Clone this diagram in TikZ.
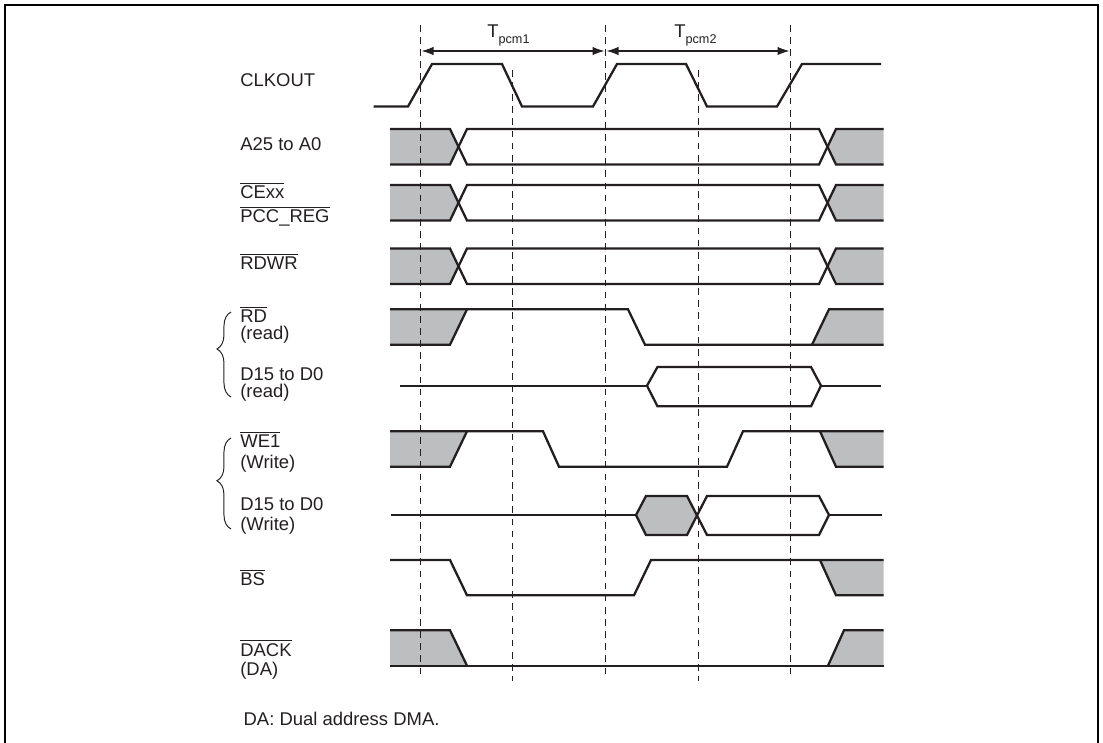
\documentclass[tikz,border=0pt]{standalone}
\usepackage{fontspec}
\setmainfont{Liberation Sans}
\usetikzlibrary{arrows.meta,decorations.pathreplacing}
\definecolor{unknownfill}{HTML}{BCBEC0}
\definecolor{inkblack}{HTML}{231F20}
\newcommand{\ovl}[1]{$\overline{\mbox{#1}}$}
\newcommand{\tsub}[2]{#1\raisebox{-3.4pt}{\fontsize{7.2}{8}\selectfont #2}}

\begin{document}
\begin{tikzpicture}[x=0.02cm,y=-0.02cm,
  signal/.style={draw=inkblack, line width=1.3pt, line join=miter},
  unknown/.style={fill=unknownfill, draw=none},
  thin signal/.style={draw=inkblack, line width=1.2pt},
  guide/.style={draw=inkblack, line width=0.8pt, dash pattern=on 3.8pt off 3.1pt},
  span/.style={{Latex[length=6.8pt,width=4.8pt]}-{Latex[length=6.8pt,width=4.8pt]}, draw=inkblack, line width=0.6pt, shorten <=0.6pt, shorten >=0.6pt},
  label/.style={anchor=base west, align=left, inner sep=0pt, text=inkblack, font=\fontsize{10.5}{9.8}\selectfont},
  bracket/.style={draw=inkblack, line width=0.55pt, decorate}
]
\useasboundingbox (0,0) rectangle (1103,743);

% frame
\draw[line width=1.15pt, draw=black] (5,743) -- (5,5) -- (1098,5) -- (1098,743);

% --------- GRAY AREAS ----------
\foreach \t/\b in {129/164.5, 185/220.5, 248.5/284} {
  \fill[unknown] (390,\t) -- (450,\t) -- (459,{(\t+\b)/2}) -- (450,\b) -- (390,\b) -- cycle;
  \fill[unknown] (883.5,\t) -- (836,\t) -- (827.5,{(\t+\b)/2}) -- (836,\b) -- (883.5,\b) -- cycle;
}
\fill[unknown] (390,309.3) -- (467,309.3) -- (450,344.7) -- (390,344.7) -- cycle;
\fill[unknown] (883.5,309.3) -- (829,309.3) -- (812,344.7) -- (883.5,344.7) -- cycle;
\fill[unknown] (390,431.3) -- (467,431.3) -- (450,466.7) -- (390,466.7) -- cycle;
\fill[unknown] (883.5,431.3) -- (820,431.3) -- (836,466.7) -- (883.5,466.7) -- cycle;
\fill[unknown] (636,515) -- (646,496) -- (687,496) -- (696.5,515) -- (687,535) -- (646,535) -- cycle;
\fill[unknown] (883.5,560) -- (820,560) -- (836,595.3) -- (883.5,595.3) -- cycle;
\fill[unknown] (390,630.3) -- (450,630.3) -- (467,665.7) -- (390,665.7) -- cycle;
\fill[unknown] (883.5,630.3) -- (844,630.3) -- (828,665.7) -- (883.5,665.7) -- cycle;

% --------- WAVEFORMS ----------
% clock
\draw[signal] (373.5,106.5) -- (408,106.5) -- (432,64) -- (502,64) -- (522,106.5) -- (593,106.5) -- (617,64) -- (686,64) -- (707,106.5) -- (777,106.5) -- (802,64) -- (881,64);

% address style buses
\foreach \t/\b in {129/164.5, 185/220.5, 248.5/284} {
  \draw[signal] (390,\t) -- (450,\t) -- (467,\b) -- (819,\b) -- (836,\t) -- (883.5,\t);
  \draw[signal] (390,\b) -- (450,\b) -- (467,\t) -- (819,\t) -- (836,\b) -- (883.5,\b);
}

% read
\draw[signal] (390,309.3) -- (628,309.3) -- (645,344.7) -- (883.5,344.7);
\draw[signal] (390,344.7) -- (450,344.7) -- (467,309.3);
\draw[signal] (812,344.7) -- (829,309.3) -- (883.5,309.3);
\draw[thin signal] (400,385.7) -- (647,385.7);
\draw[signal] (657.5,367) -- (647,385.7) -- (657.5,406.3) -- (811,406.3) -- (821,385.7) -- (811,367) -- cycle;
\draw[thin signal] (821,385.7) -- (881,385.7);

% write
\draw[signal] (390,431.3) -- (543,431.3) -- (559,466.7) -- (727,466.7) -- (743,431.3) -- (883.5,431.3);
\draw[signal] (390,466.7) -- (450,466.7) -- (467,431.3);
\draw[signal] (820,431.3) -- (836,466.7) -- (883.5,466.7);
\draw[thin signal] (391,515) -- (636,515);
\draw[signal] (636,515) -- (646,496) -- (687,496) -- (707,535) -- (819,535) -- (829,515) -- (819,496) -- (707,496) -- (687,535) -- (646,535) -- cycle;
\draw[thin signal] (829,515) -- (882,515);

% bus state
\draw[signal] (390,560) -- (450,560) -- (467,595.3) -- (634,595.3) -- (651,560) -- (883.5,560);
\draw[signal] (820,560) -- (836,595.3) -- (883.5,595.3);

% dack
\draw[signal] (390,630.3) -- (450,630.3) -- (467,665.7);
\draw[signal] (390,665.7) -- (883.5,665.7);
\draw[signal] (828,665.7) -- (844,630.3) -- (883.5,630.3);

% --------- CYCLE GUIDES ----------
\foreach \x in {420.5,605.5,790.5} \draw[guide] (\x,25) -- (\x,678);
\foreach \x in {512.5,698.5} \draw[guide] (\x,70) -- (\x,681);

\coordinate (c1) at (420.5,51);
\coordinate (c2) at (605.5,51);
\coordinate (c3) at (790.5,51);
\draw[span] (c1) -- (c2);
\draw[span] (c2) -- (c3);
\node[label] (tpcm1) at (487,38) {\tsub{T}{pcm1}};
\node[label] (tpcm2) at (674,38) {\tsub{T}{pcm2}};

% --------- LABELS ----------
\node[label] (clkout) at (240,87) {CLKOUT};
\node[label] (addr) at (240,151) {A25 to A0};
\node[label] (ce) at (240,222.7) {\ovl{CExx}\\[3.8pt]\ovl{PCC\_REG}};
\node[label] (rdwr) at (240,270) {\ovl{RDWR}};
\node[label] (rd) at (240,340) {\ovl{RD}\\(read)};
\node[label] (dread) at (240,397.3) {D15 to D0\\(read)};
\node[label] (we) at (240,468.3) {\ovl{WE1}\\[1.9pt](Write)};
\node[label] (dwrite) at (240,530.7) {D15 to D0\\[1.9pt](Write)};
\node[label] (bs) at (240,585.7) {\ovl{BS}};
\node[label] (dack) at (240,675) {\ovl{DACK}\\[1pt](DA)};
\node[label] (note) at (243.3,725) {DA: Dual address DMA.};

% braces
\coordinate (rbot) at (231,397);
\coordinate (rtop) at (231,312);
\coordinate (wbot) at (231,529);
\coordinate (wtop) at (231,438);
\draw[bracket, decoration={brace,amplitude=8pt,aspect=0.565}] (rbot) -- (rtop);
\draw[bracket, decoration={brace,amplitude=8pt,aspect=0.53}] (wbot) -- (wtop);

\end{tikzpicture}
\end{document}
